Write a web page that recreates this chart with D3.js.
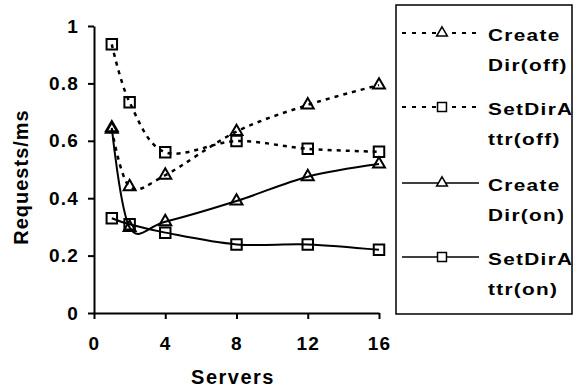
<!DOCTYPE html>
<html>
<head>
<meta charset="utf-8">
<script src="https://cdn.jsdelivr.net/npm/d3@7"></script>
<style>
  body { margin: 0; background: #fff; }
  text { font-family: "Liberation Sans", Arial, sans-serif; font-weight: bold; fill: #000; }
</style>
</head>
<body>
<div id="chart"></div>
<script>
// values
let servers = [1, 2, 4, 8, 12, 16];
let createDirOff = [0.64, 0.44, 0.48, 0.632, 0.725, 0.794];
let setDirAttrOff = [0.936, 0.734, 0.56, 0.599, 0.572, 0.562];
let createDirOn = [0.645, 0.298, 0.318, 0.39, 0.475, 0.519];
let setDirAttrOn = [0.33, 0.309, 0.28, 0.239, 0.239, 0.22];

let xTicks = [0, 4, 8, 12, 16];
let yTicks = [0, 0.2, 0.4, 0.6, 0.8, 1];
let legendLabels = [["Create", "Dir(off)"], ["SetDirA", "ttr(off)"], ["Create", "Dir(on)"], ["SetDirA", "ttr(on)"]];

let width = 580;
let height = 390;

let series = [
    { values: createDirOff, marker: d3.symbolTriangle, dash: "4,5" },
    { values: setDirAttrOff, marker: d3.symbolSquare, dash: "4,5" },
    { values: createDirOn, marker: d3.symbolTriangle, dash: null },
    { values: setDirAttrOn, marker: d3.symbolSquare, dash: null }
];

let svg = d3.select("#chart")
    .append("svg")
    .attr("width", width)
    .attr("height", height);

let x = d3.scaleLinear().domain([0, 16]).range([94, 379]);
let y = d3.scaleLinear().domain([0, 1]).range([313, 26]);

// axes
let yAxis = svg.append("g")
    .attr("transform", "translate(94,0)")
    .call(d3.axisLeft(y).tickValues(yTicks).tickSize(6).tickSizeOuter(0).tickPadding(9)
        .tickFormat(d => String(d)));
let xAxis = svg.append("g")
    .attr("transform", "translate(0,313)")
    .call(d3.axisBottom(x).tickValues(xTicks).tickSize(6).tickSizeOuter(0).tickPadding(18));

[yAxis, xAxis].forEach(ax => {
    ax.select(".domain").attr("stroke", "#000").attr("stroke-width", 2);
    ax.selectAll(".tick line").attr("stroke", "#000").attr("stroke-width", 2);
    ax.selectAll(".tick text")
        .style("font-family", '"Liberation Sans", Arial, sans-serif')
        .style("font-weight", "bold")
        .style("font-size", "19px")
        .style("letter-spacing", "1.2px")
        .attr("fill", "#000");
});

svg.append("text")
    .attr("x", 233)
    .attr("y", 384)
    .attr("text-anchor", "middle")
    .style("font-size", "20px")
    .style("letter-spacing", "1.5px")
    .text("Servers");

svg.append("text")
    .attr("transform", "translate(28,177) rotate(-90)")
    .attr("text-anchor", "middle")
    .style("font-size", "20px")
    .style("letter-spacing", "1px")
    .text("Requests/ms");

// lines + markers
let line = d3.line()
    .x((d, i) => x(servers[i]))
    .y(d => y(d))
    .curve(d3.curveCatmullRom.alpha(0));

series.forEach(s => {
    svg.append("path")
        .datum(s.values)
        .attr("d", line)
        .attr("fill", "none")
        .attr("stroke", "#000")
        .attr("stroke-width", s.dash ? 2.5 : 2)
        .attr("stroke-dasharray", s.dash);

    let size = s.marker === d3.symbolTriangle ? 62 : 110;
    svg.append("g").selectAll("path")
        .data(s.values)
        .enter()
        .append("path")
        .attr("d", d3.symbol().type(s.marker).size(size))
        .attr("transform", (d, i) => `translate(${x(servers[i])},${y(d)})`)
        .attr("fill", "none")
        .attr("stroke", "#000")
        .attr("stroke-width", 2);
});

// legend
svg.append("rect")
    .attr("x", 396)
    .attr("y", 5)
    .attr("width", 176)
    .attr("height", 309)
    .attr("fill", "none")
    .attr("stroke", "#000")
    .attr("stroke-width", 1.5);

let legendY = [33, 107, 183, 257];
let keys = svg.selectAll(".key")
    .data(series)
    .enter()
    .append("g")
    .attr("class", "key")
    .attr("transform", (d, i) => `translate(0,${legendY[i]})`);

keys.append("line")
    .attr("x1", 402)
    .attr("x2", 479)
    .attr("stroke", "#000")
    .attr("stroke-width", d => d.dash ? 2 : 1.5)
    .attr("stroke-dasharray", d => d.dash ? "4,6" : null);

keys.append("path")
    .attr("d", d => d3.symbol().type(d.marker).size(d.marker === d3.symbolTriangle ? 50 : 80)())
    .attr("transform", "translate(442,0)")
    .attr("fill", "#fff")
    .attr("stroke", "#000")
    .attr("stroke-width", 1.5);

keys.each(function(d, i) {
    let g = d3.select(this);
    legendLabels[i].forEach((t, j) => {
        g.append("text")
            .attr("transform", `translate(488,${7.5 + j * 30}) scale(1.3,1)`)
            .style("font-size", "16px")
            .style("letter-spacing", "1px")
            .text(t);
    });
});
</script>
</body>
</html>
